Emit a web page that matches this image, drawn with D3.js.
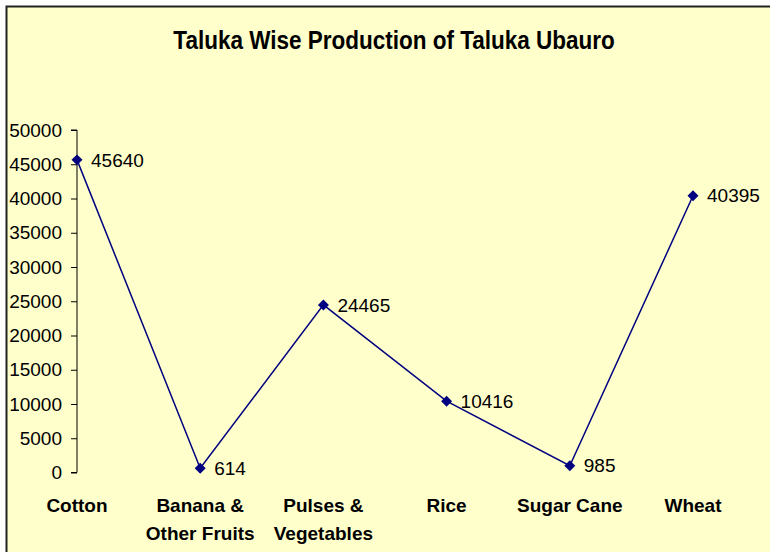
<!DOCTYPE html>
<html>
<head>
<meta charset="utf-8">
<script src="https://cdn.jsdelivr.net/npm/d3@7"></script>
<style>
  body { margin: 0; background: #fff; }
  svg { display: block; font-family: Arial, "Liberation Sans", sans-serif; }
</style>
</head>
<body>
<svg id="chart" width="770" height="552"></svg>
<script>
// chart data
const categories = ["Cotton", "Banana & Other Fruits", "Pulses & Vegetables", "Rice", "Sugar Cane", "Wheat"];
const categoryLines = [["Cotton"], ["Banana &", "Other Fruits"], ["Pulses &", "Vegetables"], ["Rice"], ["Sugar Cane"], ["Wheat"]];
const production = [45640, 614, 24465, 10416, 985, 40395];
const yTicks = [0, 5000, 10000, 15000, 20000, 25000, 30000, 35000, 40000, 45000, 50000];
const chartTitle = "Taluka Wise Production of Taluka Ubauro";

const width = 770, height = 552;
const margins = { left: 77, right: 77, top: 130, bottom: 80 };

const svg = d3.select("#chart");

// panel background with top/left frame
svg.append("rect")
    .attr("x", 6).attr("y", 6)
    .attr("width", width - 6).attr("height", height - 6)
    .attr("fill", "#ffffcc");
svg.append("path")
    .attr("d", `M6.5,${height} V6.5 H${width}`)
    .attr("fill", "none")
    .attr("stroke", "#222")
    .attr("stroke-width", 2);

// title is a bit taller than plain Arial in the original
svg.append("text")
    .attr("transform", "translate(394, 49) scale(1, 1.16)")
    .attr("text-anchor", "middle")
    .attr("font-size", 22.5)
    .attr("font-weight", "bold")
    .text(chartTitle);

const scaleX = d3.scalePoint()
    .domain(categories)
    .range([margins.left, 693]);

const scaleY = d3.scaleLinear()
    .domain([0, 50000])
    .range([472.5, margins.top]);

const yAxis = d3.axisLeft(scaleY)
    .tickValues(yTicks)
    .tickSize(6)
    .tickPadding(9)
    .tickFormat(d3.format("d"));

const gy = svg.append("g")
    .attr("transform", `translate(${margins.left}, 0)`)
    .call(yAxis);
gy.selectAll("path, line").attr("stroke", "#000").attr("stroke-width", 1);
gy.select(".domain").attr("d", `M-6,${scaleY(50000)}H0V${scaleY(0)}H-6`);
gy.selectAll("text")
    .attr("font-size", 19)
    .attr("font-family", "Arial, 'Liberation Sans', sans-serif")
    .attr("fill", "#000");

// category labels
const xLabels = svg.append("g")
    .selectAll("text")
    .data(categories)
    .join("text")
    .attr("x", d => scaleX(d))
    .attr("y", 512)
    .attr("text-anchor", "middle")
    .attr("font-size", 19)
    .attr("font-weight", "bold");
xLabels.each(function (d, i) {
    d3.select(this).selectAll("tspan")
        .data(categoryLines[i])
        .join("tspan")
        .attr("x", scaleX(d))
        .attr("dy", (t, j) => j === 0 ? 0 : 28)
        .text(t => t);
});

const line = d3.line()
    .x((d, i) => scaleX(categories[i]))
    .y(d => scaleY(d));

svg.append("path")
    .datum(production)
    .attr("d", line)
    .attr("fill", "none")
    .attr("stroke", "#000080")
    .attr("stroke-width", 1.5);

// diamond markers (rotated squares)
svg.append("g")
    .selectAll("path")
    .data(production)
    .join("path")
    .attr("d", d3.symbol(d3.symbolSquare, 60))
    .attr("transform", (d, i) => `translate(${scaleX(categories[i])}, ${scaleY(d)}) rotate(45)`)
    .attr("fill", "#000080");

svg.append("g")
    .selectAll("text")
    .data(production)
    .join("text")
    .attr("x", (d, i) => scaleX(categories[i]) + 14)
    .attr("y", d => scaleY(d))
    .attr("dy", "0.35em")
    .attr("font-size", 19)
    .text(d => d);
</script>
</body>
</html>
